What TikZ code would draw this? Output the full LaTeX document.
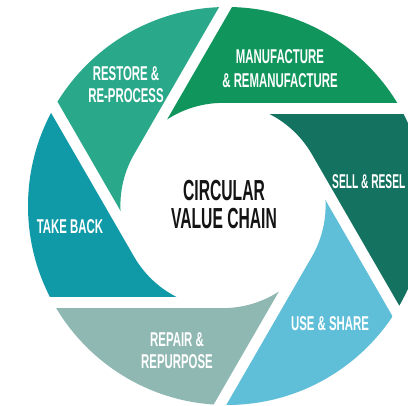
\documentclass[tikz,border=0pt]{standalone}
\usepackage{fontspec}
\setmainfont{Liberation Sans}
\newfontfamily\labelfont[FakeStretch=0.57]{Liberation Sans}
\newfontfamily\narrowfont[FakeStretch=0.51]{Liberation Sans}
\newfontfamily\titlefont[FakeStretch=0.54]{Liberation Sans}
\usetikzlibrary{calc}
\definecolor{cManu}{HTML}{10965C}
\definecolor{cSell}{HTML}{147260}
\definecolor{cUse}{HTML}{5FBED8}
\definecolor{cRepair}{HTML}{8FB8B2}
\definecolor{cTake}{HTML}{109AA8}
\definecolor{cRestore}{HTML}{2AA88A}
\newcommand\rin{102.6}
\newcommand\tipsweep{33}
\newcommand\farlen{500}
% #1 tangent angle, #2 colour
\newcommand\blade[2]{%
  \fill[#2] ($(C)+(#1:\rin)+(#1-90:\farlen)$) -- ($(C)+(#1:\rin)$)
    arc[start angle=#1, end angle=#1+\tipsweep, radius=\rin]
    -- ($(C)+(#1+\tipsweep:\rin)+(#1-30:\farlen)$) -- cycle;}
\begin{document}
\begin{tikzpicture}[x=1pt,y=1pt,
  lbl/.style={text=white, align=center, inner sep=0pt,
    font=\labelfont\bfseries\fontsize{20}{22}\selectfont},
  ttl/.style={text=black!92, align=center, inner sep=0pt,
    font=\titlefont\bfseries\fontsize{29}{27.5}\selectfont}]
\useasboundingbox (0,0) rectangle (408,406);
\fill[white] (0,0) rectangle (408,406);
\clip (0,0) rectangle (408,406);
\coordinate (O) at (227,200);
\coordinate (C) at (223,200.5);
\begin{scope}
  \clip (O) circle[radius=199];
  \blade{90}{cManu}
  \blade{30}{cSell}
  \blade{-30}{cUse}
  \blade{-90}{cRepair}
  \blade{210}{cTake}
  \blade{150}{cRestore}
\end{scope}
\node[lbl] (manu) at (280,337.25) {MANUFACTURE\\[2.5pt]\& REMANUFACTURE};
\node[lbl] (restore) at (126,321) {RESTORE \&\\RE-PROCESS};
\node[lbl, anchor=west, font=\narrowfont\bfseries\fontsize{20}{22}\selectfont] (sell) at (332,224) {SELL \& RESEL};
\node[lbl] (use) at (330,82.5) {USE \& SHARE};
\node[lbl] (repair) at (177,55.5) {REPAIR \&\\REPURPOSE};
\node[lbl] (take) at (70,179.5) {TAKE BACK};
\node[ttl] (title) at (224,201.25) {CIRCULAR\\VALUE CHAIN};
\end{tikzpicture}
\end{document}
